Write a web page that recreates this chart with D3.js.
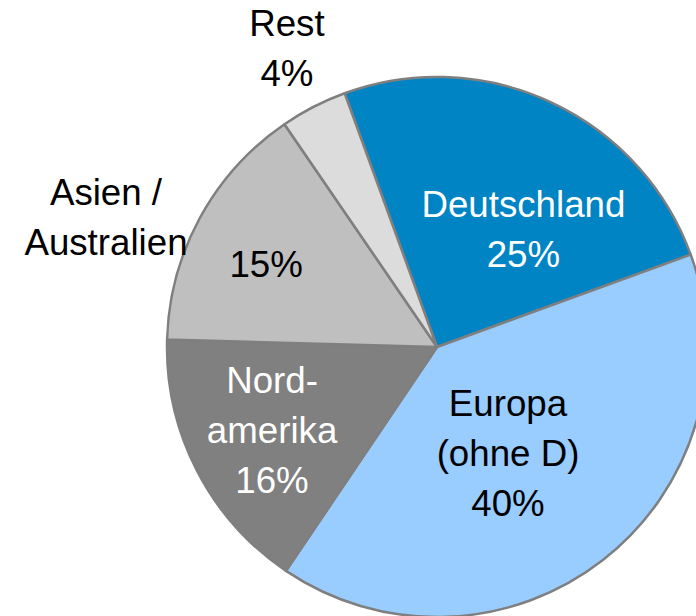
<!DOCTYPE html>
<html>
<head>
<meta charset="utf-8">
<script src="https://cdn.jsdelivr.net/npm/d3@7"></script>
<style>
  html, body { margin: 0; padding: 0; background: #fff; }
  svg { display: block; }
  text { font-family: "Liberation Sans", Arial, sans-serif; font-size: 36.7px; }
</style>
</head>
<body>
<svg id="chart" width="696" height="616"></svg>
<script>
// Data (clockwise from the Deutschland slice)
const categories = ["Deutschland", "Europa (ohne D)", "Nordamerika", "Asien / Australien", "Rest"];
const values = [25, 40, 16, 15, 4];
const colors = ["#0084C4", "#99CCFF", "#808080", "#BFBFBF", "#DCDCDC"];
// label lines drawn inside / next to each slice
const insideLines = [["Deutschland", "25%"], ["Europa", "(ohne D)", "40%"], ["Nord-", "amerika", "16%"], ["15%"], []];
const outsideLines = [[], [], [], ["Asien /", "Australien"], ["Rest", "4%"]];
const labelColors = ["#FFFFFF", "#000000", "#FFFFFF", "#000000", "#000000"];

const width = 696, height = 616;
const cx = 437, cy = 347, radius = 270;
const startAngle = -20 * Math.PI / 180;

// label block centers, expressed relative to the pie centre in units of radius
const insidePos = [[0.32, -0.437], [0.263, 0.393], [-0.611, 0.307], [-0.633, -0.307], [0, 0]];
const outsidePos = [[0, 0], [0, 0], [0, 0], [-1.226, -0.481], [-0.556, -1.107]];
const lineHeight = 50;

const svg = d3.select("#chart");
const g = svg.append("g").attr("transform", `translate(${cx},${cy})`);

const pie = d3.pie().sort(null).value(d => d)
  .startAngle(startAngle).endAngle(startAngle + 2 * Math.PI);
const arc = d3.arc().innerRadius(0).outerRadius(radius);
const arcs = pie(values);

g.selectAll("path.slice").data(arcs).join("path")
  .attr("class", "slice")
  .attr("d", arc)
  .attr("fill", (d, i) => colors[i])
  .attr("stroke", "#7F7F7F")
  .attr("stroke-width", 2.5)
  .attr("stroke-linejoin", "round");

function drawBlock(lines, pos, color) {
  if (!lines.length) return;
  const x = pos[0] * radius, y = pos[1] * radius;
  const t = g.append("text")
    .attr("text-anchor", "middle")
    .attr("fill", color);
  const n = lines.length;
  lines.forEach((s, k) => {
    t.append("tspan")
      .attr("x", x)
      .attr("y", y + (k - (n - 1) / 2) * lineHeight)
      .attr("dy", "0.35em")
      .text(s);
  });
}

arcs.forEach((d, i) => {
  drawBlock(insideLines[i], insidePos[i], labelColors[i]);
  drawBlock(outsideLines[i], outsidePos[i], "#000000");
});
</script>
</body>
</html>
